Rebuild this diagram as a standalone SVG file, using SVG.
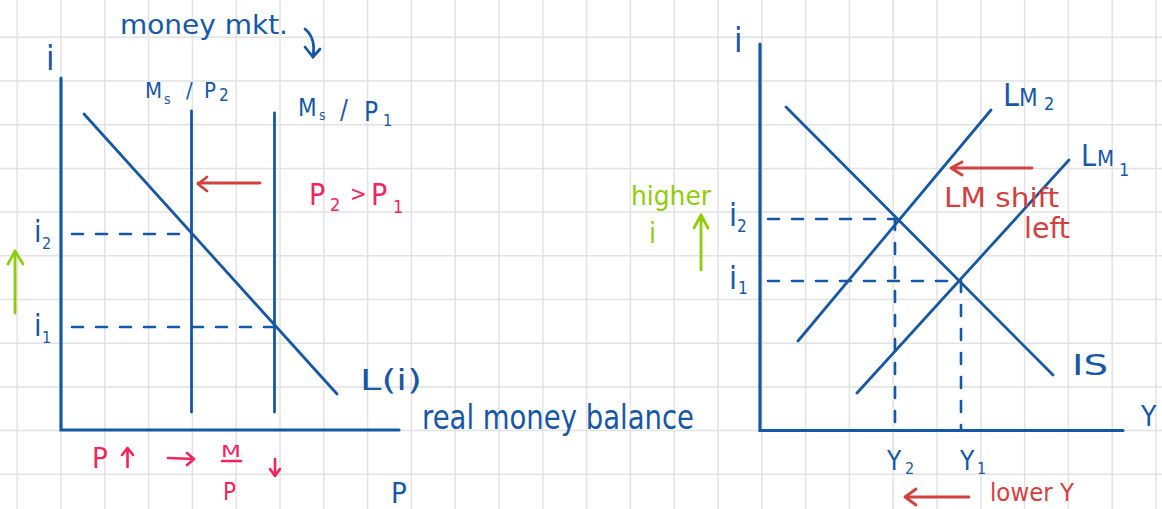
<svg xmlns="http://www.w3.org/2000/svg" width="1162" height="509" viewBox="0 0 1162 509">
<defs>
<style>
.grid{stroke:#e2e2e2;stroke-width:1.5;fill:none}
.ax{stroke:#1658a6;stroke-width:3.2;fill:none;stroke-linecap:round}
.ln{stroke:#1658a6;stroke-width:2.8;fill:none;stroke-linecap:round}
.dash{stroke:#1658a6;stroke-width:2.6;fill:none;stroke-linecap:round;stroke-dasharray:11 13}
.red{stroke:#d3403f;stroke-width:2.8;fill:none;stroke-linecap:round;stroke-linejoin:round}
.pinkl{stroke:#f2245e;stroke-width:2.6;fill:none;stroke-linecap:round;stroke-linejoin:round}
.grn{stroke:#8fcc0a;stroke-width:2.8;fill:none;stroke-linecap:round;stroke-linejoin:round}
text{font-family:"Liberation Sans Narrow","DejaVu Sans Condensed","Liberation Sans",sans-serif}
.b{fill:#1658a6}
.p{fill:#f2245e}
.r{fill:#d3403f}
.g{fill:#8fcc0a}
</style>
</defs>
<rect width="1162" height="509" fill="#ffffff"/>
<g id="grid" class="grid">
<path d="M17.2 0V509M61 0V509M104.8 0V509M148.6 0V509M192.4 0V509M236.2 0V509M280 0V509M323.8 0V509M367.6 0V509M411.4 0V509M455.2 0V509M499 0V509M542.8 0V509M586.6 0V509M630.4 0V509M674.2 0V509M718 0V509M761.8 0V509M805.6 0V509M849.4 0V509M893.2 0V509M937 0V509M980.8 0V509M1024.6 0V509M1068.4 0V509M1112.2 0V509M1156 0V509"/>
<path d="M0 37.3H1162M0 81H1162M0 124.7H1162M0 168.4H1162M0 212.1H1162M0 255.8H1162M0 299.5H1162M0 343.2H1162M0 386.9H1162M0 430.6H1162M0 474.3H1162"/>
</g>

<g id="money-market">
<text class="b" x="120" y="34" font-size="27" textLength="168" lengthAdjust="spacingAndGlyphs">money mkt.</text>
<path class="ln" d="M305 29 Q316 38 313 56 M305 47 L313 57 L320 49"/>
<g id="left-axes">
<path class="ax" d="M61 78 V430 H399"/>
<text class="b" x="46" y="70" font-size="34">i</text>
</g>
<g id="L-curve">
<path class="ln" d="M84 114 L337 394"/>
<text class="b" x="360" y="390" font-size="28" textLength="62" lengthAdjust="spacingAndGlyphs">L(i)</text>
</g>
<g id="MsP2">
<path class="ln" d="M191.5 111 V412"/>
<text class="b" x="145" y="98" font-size="22">M</text>
<text class="b" x="164" y="104" font-size="14">s</text>
<text class="b" x="186" y="98" font-size="22">/</text>
<text class="b" x="204" y="98" font-size="22">P</text>
<text class="b" x="219" y="101" font-size="17">2</text>
</g>
<g id="MsP1">
<path class="ln" d="M274.5 113 V412"/>
<text class="b" x="298" y="116" font-size="24">M</text>
<text class="b" x="319" y="120" font-size="14">s</text>
<text class="b" x="340" y="119" font-size="26">/</text>
<text class="b" x="364" y="121" font-size="26">P</text>
<text class="b" x="383" y="126" font-size="16">1</text>
</g>
<g id="left-levels">
<text class="b" x="34" y="242" font-size="30">i</text>
<text class="b" x="42" y="249" font-size="16">2</text>
<text class="b" x="34" y="336" font-size="30">i</text>
<text class="b" x="42" y="343" font-size="16">1</text>
</g>
<text class="b" x="422" y="429" font-size="34" textLength="272" lengthAdjust="spacingAndGlyphs">real money balance</text>
<text class="b" x="391" y="503" font-size="29">P</text>
<text class="p" x="309" y="205" font-size="30">P</text>
<text class="p" x="330" y="211" font-size="18">2</text>
<text class="p" x="350" y="201" font-size="22">&gt;</text>
<text class="p" x="371" y="205" font-size="30">P</text>
<text class="p" x="393" y="213" font-size="18">1</text>
<g id="bottom-pink">
<text class="p" x="92" y="468" font-size="29">P</text>
<path class="pinkl" d="M127.5 467 V448 M122 455 L127.5 448 L133 455"/>
<path class="pinkl" d="M168 458 L194 459 M187 453 L194 459 L187 465"/>
<text class="p" x="221" y="457" font-size="15" textLength="20" lengthAdjust="spacingAndGlyphs">M</text>
<path class="pinkl" d="M222 461 H241"/>
<text class="p" x="223" y="500" font-size="24">P</text>
<path class="pinkl" d="M275 459 V476 M270 469 L275 476 L280 469"/>
</g>
</g>

<g id="right-chart">
<g id="right-axes">
<path class="ax" d="M760 44 V430.5 H1123"/>
<text class="b" x="734" y="52" font-size="34">i</text>
<text class="b" x="1141" y="426" font-size="28">Y</text>
</g>
<g id="IS">
<path class="ln" d="M786 107 L1053 375"/>
<text class="b" x="1072" y="375" font-size="28" textLength="36" lengthAdjust="spacingAndGlyphs">IS</text>
</g>
<g id="LM2">
<path class="ln" d="M798 341 L991 110"/>
<text class="b" x="1003" y="106" font-size="32">L</text>
<text class="b" x="1019" y="106" font-size="24">M</text>
<text class="b" x="1044" y="110" font-size="18">2</text>
</g>
<g id="LM1">
<path class="ln" d="M857 393 L1069 160"/>
<text class="b" x="1081" y="166" font-size="30">L</text>
<text class="b" x="1097" y="166" font-size="22">M</text>
<text class="b" x="1119" y="176" font-size="18">1</text>
</g>
<g id="right-levels">
<text class="b" x="729" y="226" font-size="32">i</text>
<text class="b" x="737" y="232" font-size="17">2</text>
<text class="b" x="729" y="289" font-size="32">i</text>
<text class="b" x="738" y="294" font-size="17">1</text>
<text class="b" x="887" y="470" font-size="26">Y</text>
<text class="b" x="905" y="474" font-size="16">2</text>
<text class="b" x="960" y="470" font-size="26">Y</text>
<text class="b" x="977" y="474" font-size="16">1</text>
</g>
<text class="r" x="944" y="207" font-size="26" textLength="115" lengthAdjust="spacingAndGlyphs">LM shift</text>
<text class="r" x="1024" y="238" font-size="28" textLength="46" lengthAdjust="spacingAndGlyphs">left</text>
<text class="r" x="990" y="501" font-size="25" textLength="84" lengthAdjust="spacingAndGlyphs">lower Y</text>
<text class="g" x="631" y="205" font-size="27" textLength="80" lengthAdjust="spacingAndGlyphs">higher</text>
<text class="g" x="649" y="243" font-size="28">i</text>
</g>

<g id="connectors">
<path class="dash" d="M72 234 H191"/>
<path class="dash" d="M72 327 H274"/>
<path class="dash" d="M768 219 H897"/>
<path class="dash" d="M768 281 H958"/>
<path class="dash" d="M895 219 V428"/>
<path class="dash" d="M961 281 V430"/>
<path class="red" d="M260 183 H198 M207 177 L198 184 L207 191"/>
<path class="red" d="M1032 168 H951 M962 162 L951 168 L962 175"/>
<path class="red" d="M969 497 H905 M916 489 L905 497 L916 505"/>
<path class="grn" d="M15 313 V251 M8 264 L15 251 L23 264"/>
<path class="grn" d="M701 270 V215 M694 228 L701 215 L708 228"/>
</g>
</svg>
